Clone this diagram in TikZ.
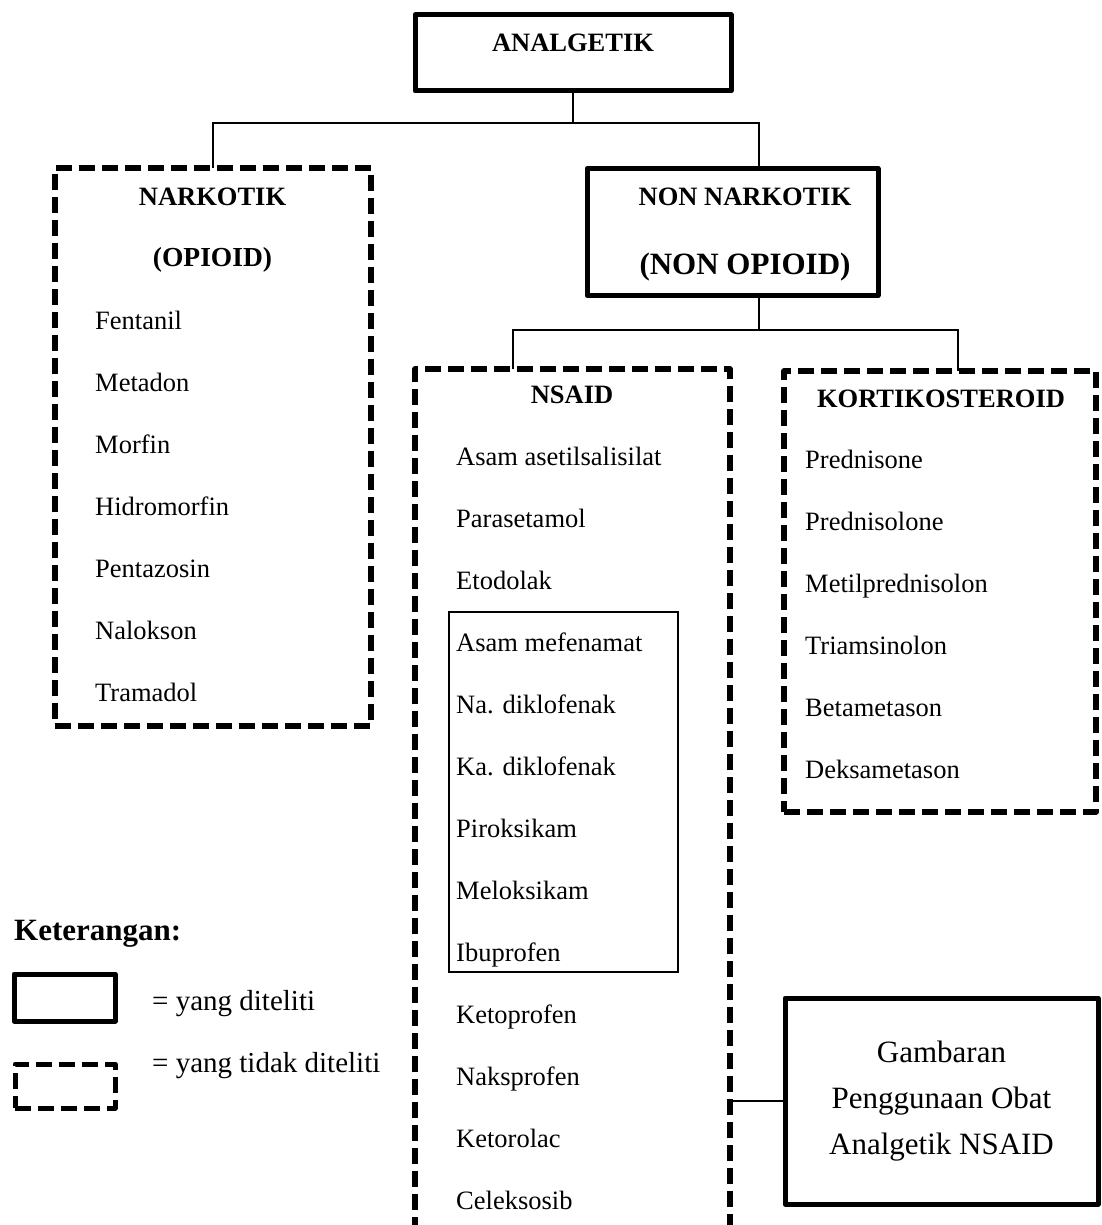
\documentclass[tikz,border=0pt]{standalone}
\usepackage{fontspec}
\setmainfont{Liberation Serif}
\usetikzlibrary{positioning}

\tikzset{
	solidbox/.style={draw, line width=5pt, inner sep=0pt, outer sep=0pt, line join=round},
	dashbox/.style={draw, line width=5.5pt, dash pattern=on 16pt off 7pt, inner sep=0pt, outer sep=0pt, line join=round},
	thinbox/.style={draw, line width=1.6pt, inner sep=0pt, outer sep=0pt},
	link/.style={draw, line width=1.8pt},
	title/.style={anchor=base, inner sep=0pt, font=\fontsize{26.5}{32}\selectfont\bfseries},
	drug/.style={anchor=base west, inner sep=0pt, font=\fontsize{26.5}{32}\selectfont},
}

\begin{document}
\begin{tikzpicture}[x=1pt, y=-1pt]
		\useasboundingbox (0,0) rectangle (1101,1225);
		\clip (0,0) rectangle (1101,1225);

		% boxes
		\node [solidbox, minimum width=316pt, minimum height=76pt] (analgetik) at (573,53) {};
		\node [dashbox, minimum width=316pt, minimum height=558pt] (narkotik) at (213,447) {};
		\node [solidbox, minimum width=291pt, minimum height=127pt] (nonnarkotik) at (732.5,232) {};
		\node [dashbox, minimum width=315pt, minimum height=891pt] (nsaid) at (572.5,814.5) {};
		\node [dashbox, minimum width=312pt, minimum height=441pt] (kortiko) at (940,591.5) {};
		\node [thinbox, minimum width=229pt, minimum height=360pt] (diteliti) at (563.5,792) {};
		\node [solidbox, minimum width=313pt, minimum height=206pt, align=center,
			font=\fontsize{31}{46}\selectfont] (gambaran) at (941.5,1101)
			{Gambaran\\Penggunaan Obat\\Analgetik NSAID};

		% titles
		\node [title] (analgetik-title) at (573,52) {ANALGETIK};
		\node [title] (narkotik-title) at (212.5,205) {NARKOTIK};
		\node [title, font=\fontsize{27.5}{32}\selectfont\bfseries] (opioid-title) at (212.5,266) {(OPIOID)};
		\node [title] (nonnarkotik-title) at (745,205) {NON NARKOTIK};
		\node [title, font=\fontsize{31}{36}\selectfont\bfseries] (nonopioid-title) at (745,274) {(NON OPIOID)};
		\node [title] (nsaid-title) at (572,403) {NSAID};
		\node [title] (kortiko-title) at (941,407) {KORTIKOSTEROID};

		% drug lists
		\foreach \d [count=\i from 0] in {Fentanil, Metadon, Morfin, Hidromorfin, Pentazosin, Nalokson, Tramadol}
		\node [drug] (opioid-\i) at (95,{329+62*\i}) {\d};

		\foreach \d [count=\i from 0] in {Asam asetilsalisilat, Parasetamol, Etodolak, Asam mefenamat,
			Na. diklofenak, Ka. diklofenak, Piroksikam, Meloksikam, Ibuprofen, Ketoprofen,
			Naksprofen, Ketorolac, Celeksosib}
		\node [drug] (nsaid-\i) at (456,{465+62*\i}) {\d};

		\foreach \d [count=\i from 0] in {Prednisone, Prednisolone, Metilprednisolon, Triamsinolon, Betametason, Deksametason}
		\node [drug] (steroid-\i) at (805,{468+62*\i}) {\d};

		% connectors
		\coordinate (split-top) at (573,123);
		\coordinate (split-mid) at (759,330);
		\draw [link] (analgetik.south) -- (split-top);
		\draw [link] (narkotik.north) |- (split-top) -| ([xshift=26.5pt]nonnarkotik.north);
		\draw [link] ([xshift=26.5pt]nonnarkotik.south) -- (split-mid);
		\draw [link] ([xshift=-59.5pt]nsaid.north) |- (split-mid) -| ([xshift=18pt]kortiko.north);
		\draw [link] (nsaid.east |- gambaran.west) -- (gambaran.west);

		% legend
		\node [anchor=base west, inner sep=0pt, font=\fontsize{31}{36}\selectfont\bfseries] (keterangan) at (14,940) {Keterangan:};
		\node [solidbox, minimum width=101pt, minimum height=47pt] (key-solid) at (64.5,997.5) {};
		\node [dashbox, line width=5pt, minimum width=100pt, minimum height=44pt] (key-dash) at (65,1086) {};
		\node [drug, font=\fontsize{29}{34}\selectfont] (key-solid-text) at (152,1010) {= yang diteliti};
		\node [drug, font=\fontsize{29}{34}\selectfont] (key-dash-text) at (152,1072) {= yang tidak diteliti};
	\end{tikzpicture}
\end{document}
